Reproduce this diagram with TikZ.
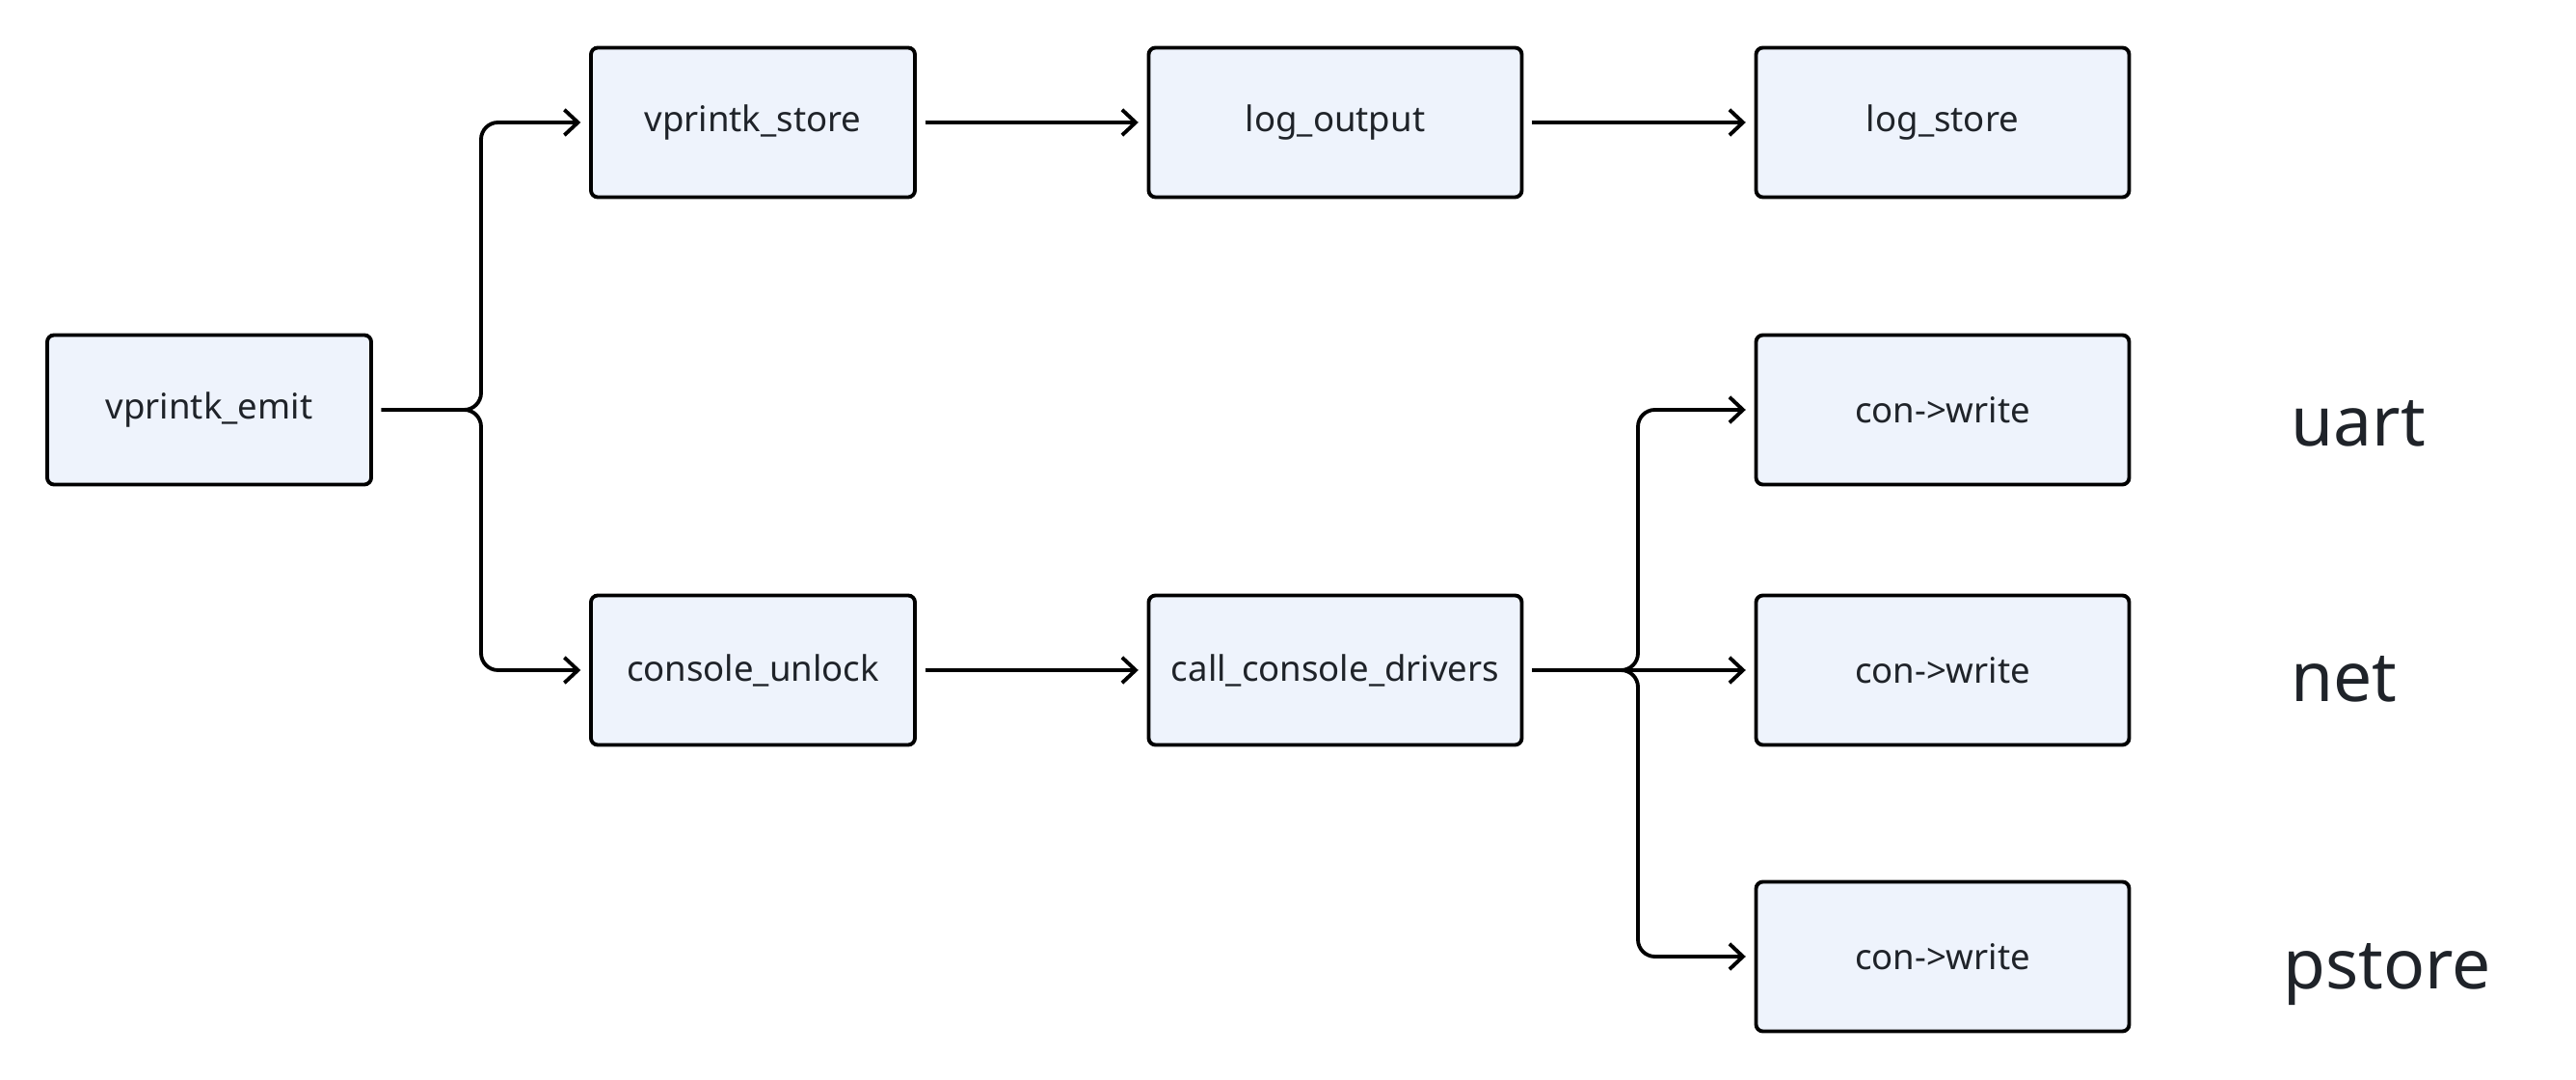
\documentclass[tikz,border=0pt]{standalone}
\usepackage{fontspec}
\setmainfont{Noto Sans}
\usetikzlibrary{arrows.meta}
\definecolor{boxfill}{HTML}{EEF3FC}
\definecolor{inkgray}{HTML}{1F2329}

\begin{document}
\begin{tikzpicture}[
    func/.style={draw=black,fill=boxfill,rounded corners=2pt,line width=1.1pt,
      minimum width=3.36cm,minimum height=1.55cm,text=inkgray,
      font=\fontsize{10.4}{12}\selectfont},
    widefunc/.style={func,minimum width=3.87cm},
    link/.style={line width=1.1pt,-{Straight Barb[length=4pt,width=7.5pt]},
      rounded corners=5pt,shorten <=2.5pt,shorten >=2.5pt},
    drvname/.style={text=inkgray,anchor=base west,font=\fontsize{20.3}{24}\selectfont}]
    \useasboundingbox (0,0) rectangle (26.72,11.2);
    % printk path
    \node [func] (emit) at (2.17,6.95) {vprintk\_emit};
    \node [func] (vstore) at (7.81,9.93) {vprintk\_store};
    \node [widefunc] (logout) at (13.85,9.93) {log\_output};
    \node [widefunc] (logstore) at (20.15,9.93) {log\_store};
    \node [func] (unlock) at (7.81,4.25) {console\_unlock};
    \node [widefunc] (drivers) at (13.85,4.25) {call\_console\_drivers};
    % consoles
    \node [widefunc] (conuart) at (20.15,6.95) {con->write};
    \node [widefunc] (connet) at (20.15,4.25) {con->write};
    \node [widefunc] (conpstore) at (20.15,1.28) {con->write};
    \node [drvname] (uart) at (23.64,6.57) {uart};
    \node [drvname] (net) at (23.64,3.92) {net};
    \node [drvname] (pstore) at (23.56,0.94) {pstore};
    % connectors
    \draw [link] (emit.east) -- (4.99,6.95) |- (vstore.west);
    \draw [link] (emit.east) -- (4.99,6.95) |- (unlock.west);
    \draw [link] (vstore) -- (logout);
    \draw [link] (logout) -- (logstore);
    \draw [link] (unlock) -- (drivers);
    \draw [link] (drivers.east) -- (16.99,4.25) |- (conuart.west);
    \draw [link] (drivers) -- (connet);
    \draw [link] (drivers.east) -- (16.99,4.25) |- (conpstore.west);
\end{tikzpicture}
\end{document}
